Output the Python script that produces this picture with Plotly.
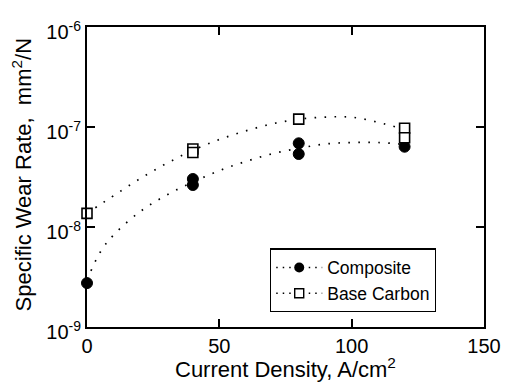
import plotly.graph_objects as go

# Measured data points
comp_x = [0, 40, 40, 80, 80, 120]
comp_y = [2.75e-9, 3.02e-8, 2.63e-8, 6.87e-8, 5.37e-8, 6.35e-8]
base_x = [0, 40, 40, 80, 120, 120]
base_y = [1.37e-8, 6.03e-8, 5.56e-8, 1.20e-7, 9.7e-8, 7.82e-8]

# Fit curves
fit_x = [0, 5, 10, 20, 30, 40, 50, 60, 70, 80, 90, 100, 110, 120]
comp_fit = [2.95e-9, 5.6e-9, 8.3e-9, 1.42e-8, 2.08e-8, 2.81e-8, 3.66e-8,
            4.52e-8, 5.4e-8, 6.12e-8, 6.76e-8, 7.0e-8, 7.0e-8, 6.68e-8]
base_fit = [1.365e-8, 1.68e-8, 2.05e-8, 3.04e-8, 4.31e-8, 5.85e-8, 7.5e-8,
            9.14e-8, 1.076e-7, 1.197e-7, 1.256e-7, 1.253e-7, 1.114e-7, 9.44e-8]

x_ticks = [0, 50, 100, 150]
y_ticks = [1e-9, 1e-8, 1e-7, 1e-6]
y_ticktext = ["10<sup>-9</sup>", "10<sup>-8</sup>", "10<sup>-7</sup>", "10<sup>-6</sup>"]
x_title = "Current Density, A/cm<sup>2</sup>"
y_title = "Specific Wear Rate,\u00a0 mm<sup>2</sup>/N"

FONT = "Liberation Sans, Arial, Helvetica, sans-serif"
DOT = "1.6px,8.4px"

fig = go.Figure()
fig.add_trace(go.Scatter(x=fit_x, y=comp_fit, mode="lines", line=dict(color="black", width=1.7, dash=DOT, shape="spline"),
                         showlegend=False, hoverinfo="skip"))
fig.add_trace(go.Scatter(x=fit_x, y=base_fit, mode="lines", line=dict(color="black", width=1.7, dash=DOT, shape="spline"),
                         showlegend=False, hoverinfo="skip"))
fig.add_trace(go.Scatter(x=comp_x, y=comp_y, mode="markers", cliponaxis=False,
                         marker=dict(symbol="circle", size=11, color="black", line=dict(color="black", width=1)),
                         showlegend=False))
fig.add_trace(go.Scatter(x=base_x, y=base_y, mode="markers", cliponaxis=False,
                         marker=dict(symbol="square", size=10, color="white", line=dict(color="black", width=1.6)),
                         showlegend=False))
# legend entries
fig.add_trace(go.Scatter(x=[None], y=[None], mode="lines+markers", name="Composite",
                         line=dict(color="black", width=1.6, dash="1.5px,5px"),
                         marker=dict(symbol="circle", size=10, color="black")))
fig.add_trace(go.Scatter(x=[None], y=[None], mode="lines+markers", name="Base Carbon",
                         line=dict(color="black", width=1.6, dash="1.5px,5px"),
                         marker=dict(symbol="square", size=9, color="white", line=dict(color="black", width=1.4))))

axis_common = dict(showline=True, linecolor="black", linewidth=2, mirror="ticks", ticks="inside",
                   ticklen=8, tickwidth=1.6, tickcolor="black", showgrid=False, zeroline=False,
                   ticklabeloverflow="allow",
                   tickfont=dict(family=FONT, size=20, color="black"))

fig.update_xaxes(range=[0, 150], tickvals=x_ticks, **axis_common)
fig.update_yaxes(type="log", range=[-9, -6], tickvals=y_ticks, ticktext=y_ticktext, ticklabelshift=5,
                 **axis_common)

fig.add_annotation(text=x_title, xref="paper", yref="paper", x=0.5, y=-0.19,
                   xanchor="center", yanchor="bottom", showarrow=False,
                   font=dict(family=FONT, size=22, color="black"))
fig.add_annotation(text=y_title, xref="paper", yref="paper", x=-0.165, y=0.507, textangle=-90,
                   xanchor="center", yanchor="middle", showarrow=False,
                   font=dict(family=FONT, size=22, color="black"))

fig.update_layout(
    width=513, height=386,
    margin=dict(l=87, r=16, t=27, b=59),
    paper_bgcolor="white", plot_bgcolor="white",
    font=dict(family=FONT, color="black"),
    legend=dict(x=0.461, y=0.262, xanchor="left", yanchor="top", bgcolor="white",
                bordercolor="black", borderwidth=1.2, font=dict(family=FONT, size=17.5, color="black"),
                tracegroupgap=0, itemwidth=46),
)

fig.write_html("out.html", config={"displayModeBar": False},
               post_script="document.body.style.margin='0px';")
